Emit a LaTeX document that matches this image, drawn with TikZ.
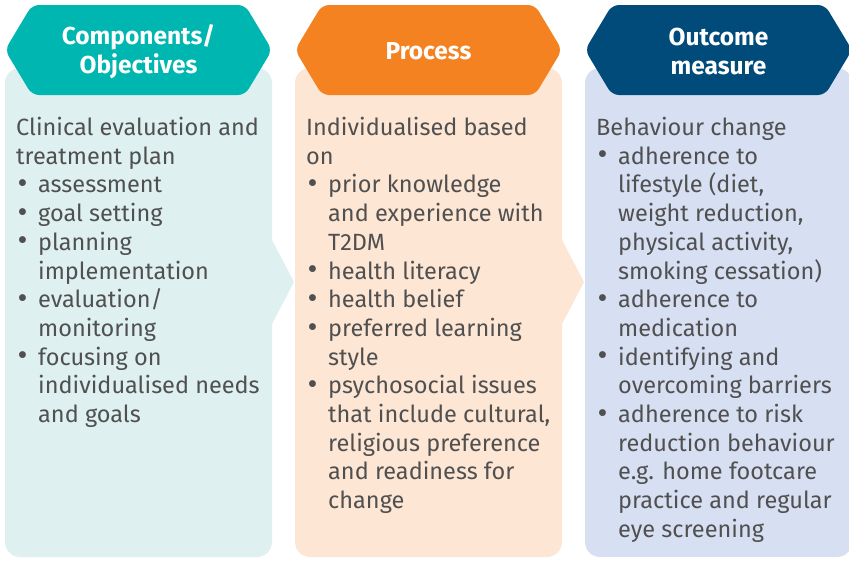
\documentclass[tikz,border=0pt]{standalone}
\usepackage{fontspec}
\setmainfont{Fira Sans}
\usetikzlibrary{positioning}
\definecolor{comp-color}{HTML}{00B6B1}
\definecolor{comp-light}{HTML}{DFF0F0}
\definecolor{proc-color}{HTML}{F58220}
\definecolor{proc-light}{HTML}{FDE6D4}
\definecolor{outc-color}{HTML}{004B7A}
\definecolor{outc-light}{HTML}{D7DFF2}
\definecolor{body-gray}{HTML}{505050}
\newcommand{\bl}{\makebox[22pt][l]{\hspace{1.5pt}\raisebox{-0.6pt}{\scalebox{1.3}{\textbullet}}}}
\newcommand{\ind}{\hspace*{22pt}}
\tikzset{
  head/.style={rounded corners=7pt},
  body/.style={rounded corners=15pt},
  head-text/.style={text=white, font=\fontsize{24.5}{29}\selectfont\bfseries, align=center},
  body-text/.style={anchor=north west, inner sep=0, text=body-gray,
    font=\fontsize{23.5}{28.7}\selectfont, align=left}
}
\begin{document}
\begin{tikzpicture}[x=1pt, y=-1pt]
  \useasboundingbox (0,0) rectangle (849,560);
  % boxes and headers
  \foreach \x/\c in {5/comp, 295/proc, 585/outc} {
    \fill[body, \c-light] (\x,68) rectangle ++(267,489);
    \fill[head, \c-color] (\x,50) -- ++(27,-45) -- ++(213,0) -- ++(27,45)
      -- ++(-27,45) -- ++(-213,0) -- cycle;
  }
  \foreach \x/\c in {5/comp, 295/proc}
    \fill[\c-light] (\x+266,238) -- (\x+289,282) -- (\x+266,326) -- cycle;

  \node[head-text] (comp-head) at (138.5,52) {Components/\\Objectives};
  \node[head-text] (proc-head) at (428.5,51) {Process};
  \node[head-text] (outc-head) at (718.5,52) {Outcome\\measure};

  \node[body-text] (comp-text) at (16,117) {Clinical evaluation and\\treatment plan\\
    \bl assessment\\\bl goal setting\\\bl planning\\\ind implementation\\
    \bl evaluation/\\\ind monitoring\\\bl focusing on\\\ind individualised needs\\
    \ind and goals};
  \node[body-text] (proc-text) at (306,117) {Individualised based\\on\\
    \bl prior knowledge\\\ind and experience with\\\ind T2DM\\\bl health literacy\\
    \bl health belief\\\bl preferred learning\\\ind style\\\bl psychosocial issues\\
    \ind that include cultural,\\\ind religious preference\\\ind and readiness for\\
    \ind change};
  \node[body-text] (outc-text) at (596,117) {Behaviour change\\
    \bl adherence to\\\ind lifestyle (diet,\\\ind weight reduction,\\
    \ind physical activity,\\\ind smoking cessation)\\\bl adherence to\\
    \ind medication\\\bl identifying and\\\ind overcoming barriers\\
    \bl adherence to risk\\\ind reduction behaviour\\\ind e.g. home footcare\\
    \ind practice and regular\\\ind eye screening};
\end{tikzpicture}
\end{document}
